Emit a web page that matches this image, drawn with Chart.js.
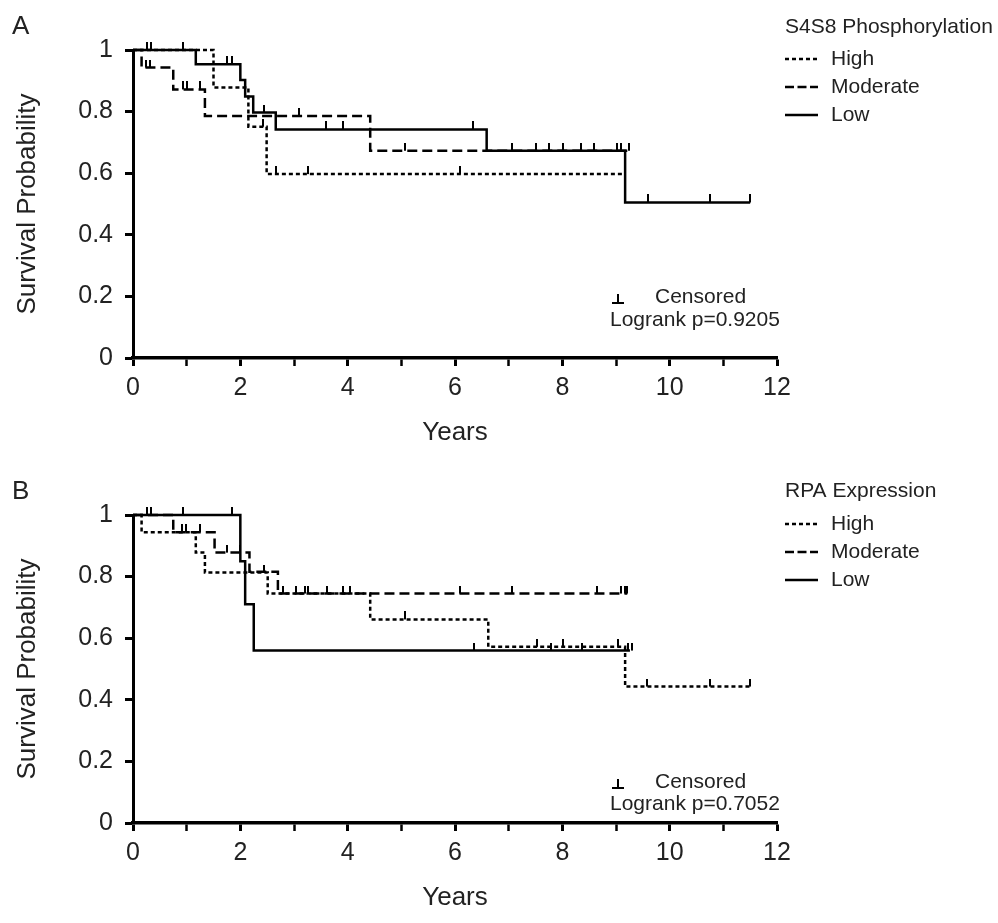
<!DOCTYPE html>
<html lang="en">
<head>
  <meta charset="UTF-8">
  <title>Kaplan-Meier survival by S4S8 phosphorylation and RPA expression</title>
  <script src="https://cdn.jsdelivr.net/npm/chart.js"></script>
  <style>
    body {
      margin: 0;
      background: #fff;
      overflow: hidden;
    }
    .panel {
      position: absolute;
      left: 0;
      width: 998px;
      height: 465px;
    }
    #panelA { top: 0; }
    #panelB { top: 465px; }
  </style>
</head>
<body>
  <div class="panel" id="panelA"><canvas id="chartA" width="998" height="465"></canvas></div>
  <div class="panel" id="panelB"><canvas id="chartB" width="998" height="465"></canvas></div>

  <script>
    // Panel A - S4S8 phosphorylation (time in years, survival probability at each step)
    const aHighTime = [0, 1.50, 2.15, 2.49, 9.17];
    const aHighSurv = [1, 0.878, 0.751, 0.597, 0.597];
    const aHighCens = [0.93, 2.42, 2.66, 3.26, 6.09];

    const aModTime = [0, 0.16, 0.75, 1.34, 4.42, 9.25];
    const aModSurv = [1, 0.943, 0.872, 0.786, 0.673, 0.673];
    const aModCens = [0.25, 0.31, 0.94, 1.0, 1.24, 3.10, 5.07, 9.09, 9.25];

    const aLowTime = [0, 1.17, 2.00, 2.09, 2.24, 2.66, 6.59, 9.17, 11.5];
    const aLowSurv = [1, 0.954, 0.903, 0.849, 0.797, 0.742, 0.673, 0.505, 0.505];
    const aLowCens = [0.27, 0.34, 1.76, 1.84, 2.45, 3.59, 3.92, 6.34, 7.07, 7.51, 7.76, 8.01, 8.34, 8.59, 9.02, 9.59, 10.75, 11.5];

    // Panel B - RPA expression
    const bHighTime = [0, 0.16, 1.17, 1.34, 2.51, 4.42, 6.62, 9.17, 11.5];
    const bHighSurv = [1, 0.944, 0.878, 0.813, 0.745, 0.661, 0.572, 0.443, 0.443];
    const bHighCens = [0.91, 0.98, 2.44, 5.07, 7.53, 8.02, 9.04, 9.58, 10.75, 11.5];

    const bModTime = [0, 0.75, 1.52, 2.17, 2.70, 9.21];
    const bModSurv = [1, 0.944, 0.878, 0.816, 0.745, 0.745];
    const bModCens = [1.25, 1.76, 1.99, 2.80, 3.03, 3.20, 3.27, 3.61, 3.92, 4.04, 6.09, 7.07, 8.64, 9.09, 9.17, 9.21];

    const bLowTime = [0, 2.00, 2.09, 2.25, 9.26];
    const bLowSurv = [1, 0.85, 0.71, 0.56, 0.56];
    const bLowCens = [0.27, 0.34, 0.93, 1.85, 6.36, 7.78, 8.37, 9.23, 9.29];

    const groupNames = ['High', 'Moderate', 'Low'];
    const xTicks = [0, 2, 4, 6, 8, 10, 12];

    const FONT = 'Arial, "Liberation Sans", Helvetica, sans-serif';
    const TEXT = '#222';

    // line styles for the three groups (curve dash, legend sample dash)
    const curveDash = { High: [4, 3], Moderate: [10, 5], Low: [] };
    const legendDash = { High: [4, 3], Moderate: [9, 3.5], Low: [] };

    // censor mark: short vertical stroke sitting on top of the curve
    const tickMark = document.createElement('canvas');
    tickMark.width = 2;
    tickMark.height = 16;
    const tctx = tickMark.getContext('2d');
    tctx.fillStyle = '#000';
    tctx.fillRect(0, 0, 2, 8);

    // survival level of a step curve at time t
    function survAt(times, surv, t) {
      let s = surv[0];
      for (let i = 0; i < times.length; i++) {
        if (times[i] <= t) s = surv[i];
      }
      return s;
    }

    function buildDatasets(groups) {
      const out = [];
      groups.forEach(g => {
        out.push({
          label: g.name,
          data: g.time.map((t, i) => ({ x: t, y: g.surv[i] })),
          stepped: true,
          borderColor: '#000',
          borderWidth: 2.5,
          borderDash: curveDash[g.name],
          legendDash: legendDash[g.name],
          pointRadius: 0,
          fill: false,
          clip: false
        });
        out.push({
          label: g.name + ' censored',
          censor: true,
          data: g.cens.map(t => ({ x: t, y: survAt(g.time, g.surv, t) })),
          showLine: false,
          pointStyle: tickMark,
          pointRadius: 3,
          clip: false
        });
      });
      return out;
    }

    // legend, panel letter and censor/logrank note
    const kmNotes = {
      id: 'kmNotes',
      afterDraw(chart, args, opts) {
        const ctx = chart.ctx;
        ctx.save();
        ctx.fillStyle = TEXT;
        ctx.textBaseline = 'middle';
        ctx.textAlign = 'left';

        ctx.font = '26px ' + FONT;
        ctx.fillText(opts.letter, 12, 27);

        ctx.font = '21px ' + FONT;
        ctx.fillText(opts.title, 785, opts.titleY);

        let y = 59;
        chart.data.datasets.filter(d => !d.censor).forEach(d => {
          ctx.strokeStyle = '#000';
          ctx.lineWidth = 2.5;
          ctx.setLineDash(d.legendDash);
          ctx.beginPath();
          ctx.moveTo(785, y);
          ctx.lineTo(818, y);
          ctx.stroke();
          ctx.fillText(d.label, 831, y);
          y += 28;
        });

        // censored key
        ctx.setLineDash([]);
        ctx.lineWidth = 2;
        const cy = opts.censY;
        ctx.beginPath();
        ctx.moveTo(612, cy + 6);
        ctx.lineTo(624, cy + 6);
        ctx.moveTo(618, cy + 6);
        ctx.lineTo(618, cy - 3);
        ctx.stroke();
        ctx.fillText('Censored', 655, cy);
        ctx.fillText('Logrank p=' + opts.pValue, 610, opts.logY);
        ctx.restore();
      }
    };

    function makeChart(canvasId, groups, notes) {
      return new Chart(document.getElementById(canvasId), {
        type: 'line',
        data: { datasets: buildDatasets(groups) },
        plugins: [kmNotes],
        options: {
          responsive: false,
          animation: false,
          events: [],
          layout: { padding: { top: 50, right: 221, left: 0, bottom: 0 } },
          plugins: {
            legend: { display: false },
            tooltip: { enabled: false },
            kmNotes: notes
          },
          scales: {
            x: {
              type: 'linear',
              min: 0,
              max: 12,
              afterFit: s => { s.height = 107; },
              border: { display: true, color: '#000', width: 3.5 },
              grid: {
                drawOnChartArea: false,
                drawTicks: true,
                tickLength: 8,
                tickColor: '#000',
                tickWidth: c => (c.tick && xTicks.includes(c.tick.value) ? 3 : 2.5)
              },
              ticks: {
                stepSize: 1,
                autoSkip: false,
                maxRotation: 0,
                padding: 7,
                color: TEXT,
                font: { size: 25, family: FONT },
                callback: v => (xTicks.includes(v) ? String(v) : '')
              },
              title: {
                display: true,
                text: 'Years',
                color: TEXT,
                font: { size: 26, family: FONT },
                padding: { top: 0, bottom: 17 }
              }
            },
            y: {
              min: 0,
              max: 1,
              afterFit: s => { s.width = 133; },
              border: { display: true, color: '#000', width: 3 },
              grid: {
                drawOnChartArea: false,
                drawTicks: true,
                tickLength: 8,
                tickColor: '#000',
                tickWidth: 3
              },
              ticks: {
                stepSize: 0.2,
                padding: 12,
                color: TEXT,
                font: { size: 25, family: FONT },
                callback: v => {
                  const r = Math.round(v * 10) / 10;
                  return (r === 0 || r === 1) ? String(r) : r.toFixed(1);
                }
              },
              title: {
                display: true,
                text: 'Survival Probability',
                color: TEXT,
                font: { size: 26, family: FONT },
                padding: { top: 12, bottom: 0 }
              }
            }
          }
        }
      });
    }

    makeChart('chartA', [
      { name: groupNames[0], time: aHighTime, surv: aHighSurv, cens: aHighCens },
      { name: groupNames[1], time: aModTime, surv: aModSurv, cens: aModCens },
      { name: groupNames[2], time: aLowTime, surv: aLowSurv, cens: aLowCens }
    ], { letter: 'A', title: 'S4S8 Phosphorylation', titleY: 27, censY: 297, logY: 320, pValue: '0.9205' });

    makeChart('chartB', [
      { name: groupNames[0], time: bHighTime, surv: bHighSurv, cens: bHighCens },
      { name: groupNames[1], time: bModTime, surv: bModSurv, cens: bModCens },
      { name: groupNames[2], time: bLowTime, surv: bLowSurv, cens: bLowCens }
    ], { letter: 'B', title: 'RPA Expression', titleY: 26, censY: 317, logY: 339, pValue: '0.7052' });
  </script>
</body>
</html>
